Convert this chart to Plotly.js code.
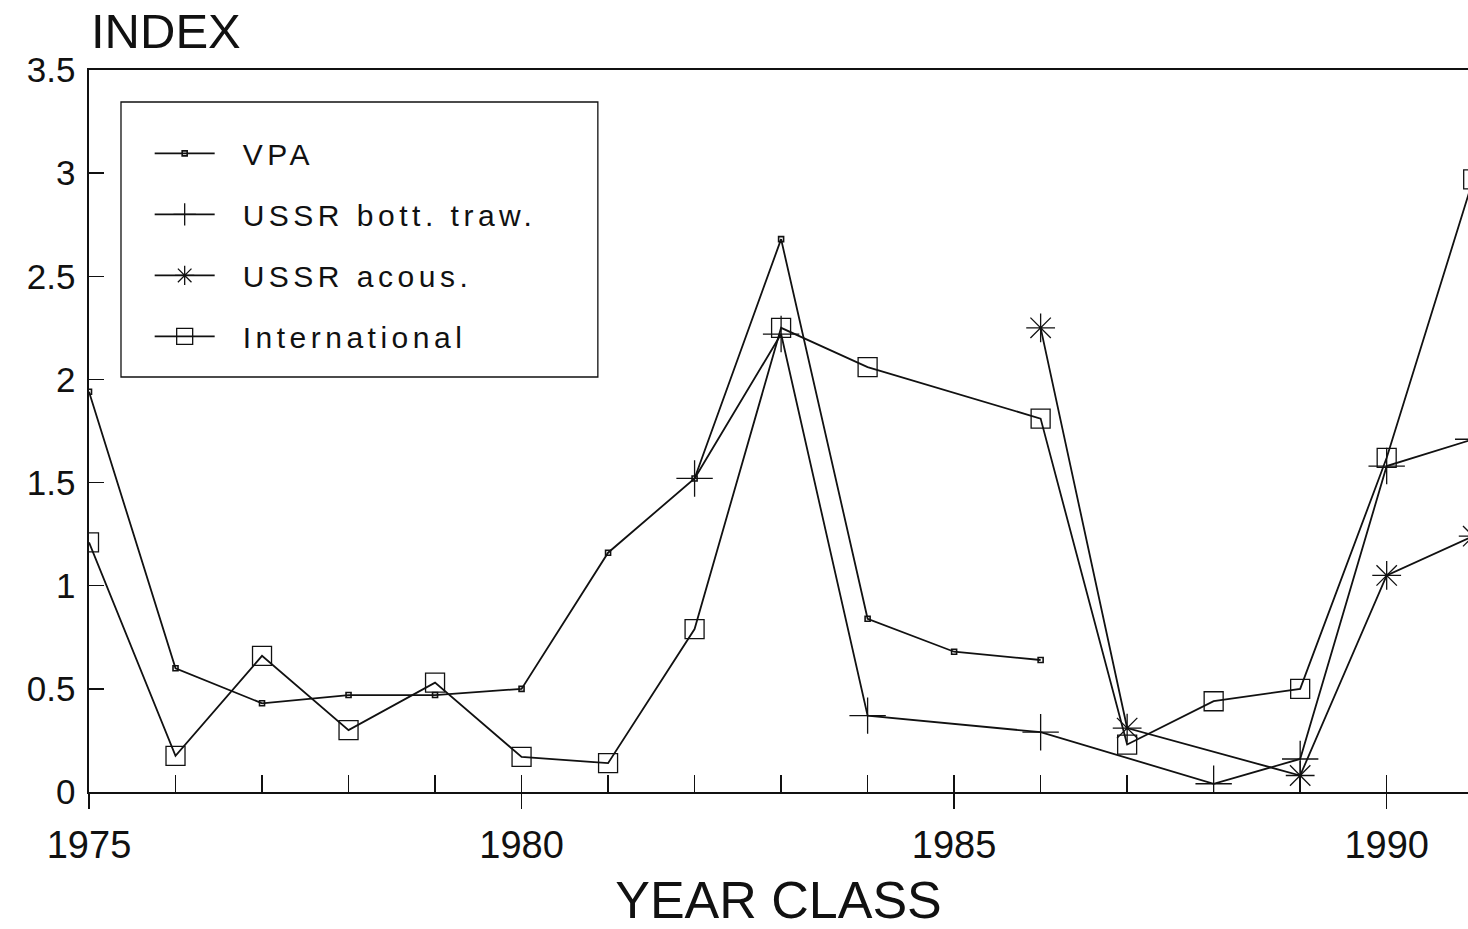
<!DOCTYPE html>
<html>
<head>
<meta charset="utf-8">
<script src="https://cdn.plot.ly/plotly-3.0.1.min.js"></script>
<style>
html,body{margin:0;padding:0;background:#fff;}
.legendtext{letter-spacing:4.5px;transform:translateX(23px);}
.legend .scrollbox{clip-path:none !important;}
</style>
</head>
<body>
<div id="chart" style="width:1468px;height:929px;"></div>
<script>
// Year classes
const years = [1975,1976,1977,1978,1979,1980,1981,1982,1983,1984,1985,1986,1987,1988,1989,1990,1991];
// Series values (null = no observation)
const vpa       = [1.94,0.60,0.43,0.47,0.47,0.50,1.16,1.52,2.68,0.84,0.68,0.64,null,null,null,null,null];
const bottTraw  = [null,null,null,null,null,null,null,1.52,2.22,0.37,null,0.29,null,0.04,0.16,1.58,1.71];
const acous     = [null,null,null,null,null,null,null,null,null,null,null,2.25,0.31,null,0.08,1.05,1.24];
const intl      = [1.21,0.175,0.66,0.30,0.53,0.17,0.14,0.79,2.25,2.06,null,1.81,0.23,0.44,0.50,1.62,2.97];
const seriesNames = ['VPA','USSR bott. traw.','USSR acous.','International'];
// Tick labels
const yTicks = [0,0.5,1,1.5,2,2.5,3,3.5];
const yTickText = ['0','0.5','1','1.5','2','2.5','3','3.5'];
const xMajor = [1975,1980,1985,1990];
const xMajorText = ['1975','1980','1985','1990'];

const ink = '#111';
const lineStyle = {color: ink, width: 1.8};

const traces = [
  {x: years, y: vpa, name: seriesNames[0], legendgroup: 'g1', mode: 'lines+markers', connectgaps: true,
   line: lineStyle, marker: {symbol: 'square-open', size: 5, color: ink, line: {width: 1.6, color: ink}}},
  {x: years, y: bottTraw, name: seriesNames[1], legendgroup: 'g2', mode: 'lines+markers', connectgaps: true,
   line: lineStyle, marker: {symbol: 'cross-thin-open', size: 26, color: ink, line: {width: 1.3, color: ink}}},
  {x: years, y: acous, name: seriesNames[2], legendgroup: 'g3', mode: 'lines+markers', connectgaps: true,
   line: lineStyle, marker: {symbol: 'asterisk-open', size: 24, color: ink, line: {width: 1.3, color: ink}}},
  {x: years, y: intl, name: seriesNames[3], legendgroup: 'g4', mode: 'lines+markers', connectgaps: true,
   line: lineStyle, marker: {symbol: 'square-open', size: 19, color: ink, line: {width: 1.3, color: ink}}},
  // empty helper trace so the labelled overlay x-axis is drawn
  {x: xMajor, y: xMajor.map(() => null), xaxis: 'x2', yaxis: 'y', mode: 'markers',
   showlegend: false, hoverinfo: 'skip'}
];

const xr = [1975, 1990.94];
const layout = {
  width: 1468, height: 929,
  margin: {l: 89, r: 0, t: 70, b: 137, pad: 0},
  paper_bgcolor: '#fff', plot_bgcolor: '#fff',
  font: {family: '"Liberation Sans", Arial, sans-serif', color: ink},
  showlegend: true,
  xaxis: {
    range: xr, showgrid: false, zeroline: false, showline: true, mirror: true,
    linecolor: ink, linewidth: 1.8,
    tickmode: 'linear', tick0: 1975, dtick: 1,
    ticks: 'inside', ticklen: 17, tickwidth: 1.4, tickcolor: ink,
    showticklabels: false
  },
  xaxis2: {
    overlaying: 'x', anchor: 'y', side: 'bottom',
    range: xr, showgrid: false, zeroline: false, showline: false,
    tickmode: 'array', tickvals: xMajor, ticktext: xMajorText,
    ticks: 'outside', ticklen: 16, tickwidth: 1.4, tickcolor: ink,
    tickfont: {size: 38, color: ink}, ticklabelstandoff: 3,
    title: {text: 'YEAR CLASS', font: {size: 52, color: ink}, standoff: 31}
  },
  yaxis: {
    range: [0, 3.5], showgrid: false, zeroline: false, showline: true,
    linecolor: ink, linewidth: 1.6,
    tickmode: 'array', tickvals: yTicks, ticktext: yTickText,
    ticks: 'inside', ticklen: 15, tickwidth: 1.4, tickcolor: ink,
    tickfont: {size: 35, color: ink}, ticklabelstandoff: 5
  },
  legend: {
    x: 0.044, y: 0.9205, xanchor: 'left', yanchor: 'top',
    bgcolor: 'rgba(0,0,0,0)', borderwidth: 0,
    font: {size: 30, color: ink},
    itemwidth: 60, tracegroupgap: 19, traceorder: 'grouped'
  },
  shapes: [{
    type: 'rect', xref: 'paper', yref: 'paper',
    x0: 0.0232, x1: 0.369, y0: 0.5748, y1: 0.9557,
    line: {color: ink, width: 1.3}, fillcolor: 'rgba(0,0,0,0)', layer: 'above'
  }],
  annotations: [{
    text: 'INDEX', xref: 'paper', yref: 'paper', x: 0, y: 1,
    xanchor: 'left', yanchor: 'bottom', xshift: 0, yshift: 10,
    showarrow: false, font: {size: 49, color: ink}
  }]
};

Plotly.newPlot('chart', traces, layout, {displayModeBar: false, staticPlot: true});
</script>
</body>
</html>
